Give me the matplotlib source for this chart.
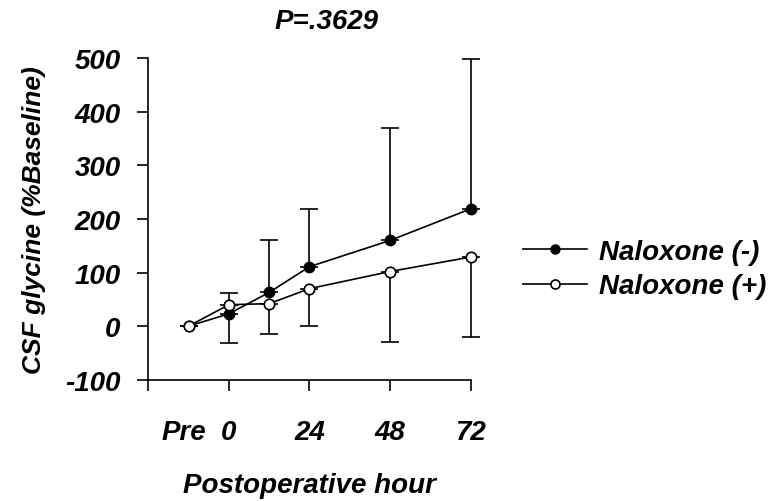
import numpy as np
import matplotlib
matplotlib.use("Agg")
import matplotlib.pyplot as plt
from matplotlib.lines import Line2D

# Hours after surgery (Pre sample drawn at -12)
hours = [-12, 0, 12, 24, 48, 72]

# Naloxone (-) : filled circles, error bars drawn upward
nal_minus = [0, 23, 63, 111, 160, 219]
nal_minus_err = [0, 39, 97, 108, 209, 280]

# Naloxone (+) : open circles, error bars drawn downward
nal_plus = [0, 40, 42, 70, 102, 129]
nal_plus_err = [0, 71, 56, 69, 131, 149]

xtick_pos = [0, 24, 48, 72]
xtick_lab = ["0", "24", "48", "72"]
yticks = [-100, 0, 100, 200, 300, 400, 500]

plt.rcParams['font.family'] = ['Liberation Sans', 'DejaVu Sans']
font = dict(fontsize=20, fontweight='bold', fontstyle='italic')

fig = plt.figure(figsize=(7.74, 5.02), dpi=100)
ax = fig.add_axes([0.1916, 0.2416, 0.4165, 0.6403])

lo = np.zeros(len(hours))
ax.errorbar(hours, nal_minus, yerr=[lo, nal_minus_err], color='black', lw=1.2,
            elinewidth=1.2, capsize=6.5, capthick=1.2, marker='o', ms=7.5,
            mfc='black', mec='black', clip_on=False, zorder=3)
ax.errorbar(hours, nal_plus, yerr=[nal_plus_err, lo], color='black', lw=1.2,
            elinewidth=1.2, capsize=6.5, capthick=1.2, marker='o', ms=7.5,
            mfc='white', mec='black', mew=1.2, clip_on=False, zorder=4)

ax.set_xlim(-24, 72)
ax.set_ylim(-100, 500)
for s in ['top', 'right']:
    ax.spines[s].set_visible(False)
for s in ['left', 'bottom']:
    ax.spines[s].set_linewidth(1.2)

ax.set_xticks([-24] + xtick_pos)
ax.set_xticklabels([""] + xtick_lab, **font)
ax.set_xticks([-13.5], minor=True)
ax.set_xticklabels(["Pre"], minor=True, **font)
ax.tick_params(axis='x', which='minor', length=0, pad=28)
ax.set_yticks(yticks)
ax.set_yticklabels([str(v) for v in yticks], **font)
ax.tick_params(axis='both', which='major', direction='out', length=8, width=1.2)
ax.tick_params(axis='x', which='major', pad=20)
ax.tick_params(axis='y', which='major', pad=12)

ax.set_xlabel("Postoperative hour", labelpad=20, **font)
ax.set_ylabel("CSF glycine (%Baseline)", labelpad=14, fontsize=19,
              fontweight='bold', fontstyle='italic')
ax.set_title("P=.3629", pad=22, x=0.553, **font)

# legend with plain line+marker handles (no error bars)
handles = [Line2D([], [], color='black', lw=1.2, marker='o', ms=6.5, mfc='black', mec='black'),
           Line2D([], [], color='black', lw=1.2, marker='o', ms=6.5, mfc='white', mec='black', mew=1.2)]
labels = ['Naloxone (-)', 'Naloxone (+)']
fig.legend(handles, labels, loc='center left', bbox_to_anchor=(0.643, 0.462), frameon=False,
           handlelength=2.3, handletextpad=0.45, labelspacing=0.3,
           prop=dict(family='Liberation Sans', size=20, weight='bold', style='italic'))

fig.savefig("out.png", dpi=100)
